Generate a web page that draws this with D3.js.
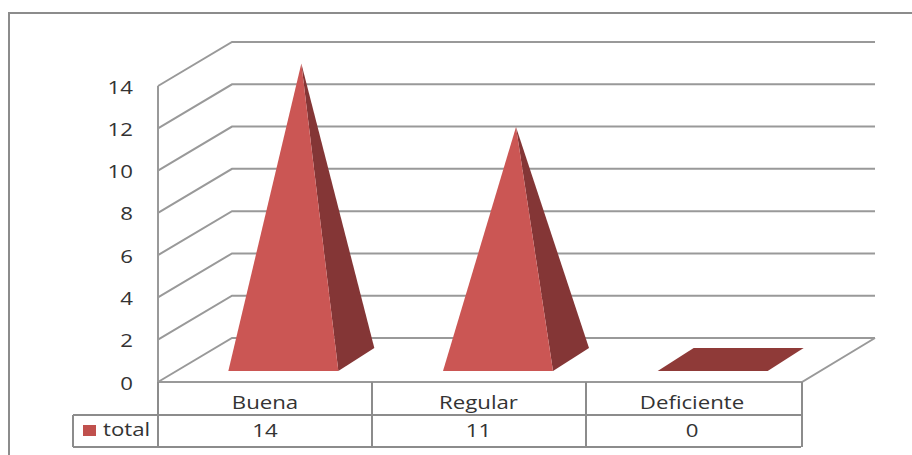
<!DOCTYPE html>
<html>
<head>
<meta charset="utf-8">
<script src="https://cdn.jsdelivr.net/npm/d3@7.9.0/dist/d3.min.js"></script>
<style>
  html, body { margin: 0; padding: 0; background: #fff; }
  svg { display: block; }
  text { font-family: "Open Sans", sans-serif; font-size: 19px; fill: #333; }
</style>
</head>
<body>
<svg id="chart" width="912" height="455"></svg>
<script>
const categories = ['Buena', 'Regular', 'Deficiente'];
const values = [14, 11, 0];
const yTicks = [0, 2, 4, 6, 8, 10, 12, 14];
const seriesName = 'total';

const svg = d3.select('#chart');
const lineColor = '#999';
const tableColor = '#8c8c8c';
const frontColor = '#cb5654';
const sideColor = '#843636';
const floorColor = '#8f3a38';
const textStretch = 1.17; // the source picture is stretched sideways

// depth of the 3d box in pixels
const depthX = 74, depthY = -44;

const x = d3.scaleBand().domain(categories).range([158, 802]);
const y = d3.scaleLinear().domain([0, 14]).range([382, 86]);
// table labels sit slightly left of the column centres
const labelX = d3.scalePoint().domain(categories).range([265, 692]);

const line = pts => 'M' + pts.map(p => p.join(',')).join('L');
const path = pts => line(pts) + 'Z';

// stretched label at px, py
function label(sel, px, py, anchor, str) {
  return sel.append('text')
    .attr('transform', `translate(${px},${py}) scale(${textStretch},1)`)
    .attr('text-anchor', anchor)
    .text(str);
}

// outer frame, only top and left are inside the crop
svg.append('path')
  .attr('d', line([[9, 455], [9, 13], [912, 13]]))
  .attr('fill', 'none').attr('stroke', tableColor).attr('stroke-width', 2);

// walls
const grid = svg.append('g').attr('fill', 'none').attr('stroke', lineColor).attr('stroke-width', 2);
grid.selectAll('path')
  .data(yTicks)
  .join('path')
  .attr('d', d => line([[158, y(d)], [158 + depthX, y(d) + depthY], [875, y(d) + depthY]]));
grid.append('path').attr('d', line([[158, y(0)], [158, y(14)]]));
grid.append('path').attr('d', line([[158, y(0)], [802, y(0)], [802 + depthX - 1, y(0) + depthY]]));

// value axis labels
const yAxis = d3.axisLeft(y).tickValues(yTicks).tickSize(0).tickPadding(0);
const yG = svg.append('g').attr('transform', 'translate(133,1)').call(yAxis);
yG.select('.domain').remove();
yG.selectAll('text')
  .style('font-size', '19px')
  .style('font-family', '"Open Sans", sans-serif')
  .attr('transform', `scale(${textStretch},1)`);

// pyramids, base sits inside the floor
const baseFront = [18, -11], baseBack = [54, -34];
const halfWidth = 55;

categories.forEach((c, i) => {
  const v = values[i];
  const cx = x(c) + x.bandwidth() / 2;
  const fl = [cx - halfWidth + baseFront[0], y(0) + baseFront[1]];
  const fr = [cx + halfWidth + baseFront[0], y(0) + baseFront[1]];
  const bl = [cx - halfWidth + baseBack[0], y(0) + baseBack[1]];
  const br = [cx + halfWidth + baseBack[0], y(0) + baseBack[1]];
  if (v === 0) {
    svg.append('path').attr('d', path([fl, fr, br, bl])).attr('fill', floorColor);
    return;
  }
  const apex = [cx + (baseFront[0] + baseBack[0]) / 2, y(v) + (baseFront[1] + baseBack[1]) / 2];
  svg.append('path').attr('d', path([fr, br, apex])).attr('fill', sideColor);
  svg.append('path').attr('d', path([fl, fr, apex])).attr('fill', frontColor);
});

// data table
const tableTop = 382, rowMid = 415, tableBottom = 447;
const tg = svg.append('g').attr('fill', 'none').attr('stroke', tableColor).attr('stroke-width', 2);
tg.append('path').attr('d', line([[73, rowMid], [802, rowMid]]));
tg.append('path').attr('d', line([[73, tableBottom], [801, tableBottom]]));
tg.append('path').attr('d', line([[73, rowMid], [73, tableBottom]]));
[158, 372, 586, 802].forEach(px => {
  tg.append('path').attr('d', line([[px, tableTop], [px, tableBottom]]));
});

categories.forEach((c, i) => {
  label(svg, labelX(c), 409, 'middle', c);
  label(svg, labelX(c), 437, 'middle', values[i]);
});

// legend key
svg.append('rect').attr('x', 83).attr('y', 425).attr('width', 13).attr('height', 11).attr('fill', '#c0504d');
label(svg, 103, 436, 'start', seriesName);
</script>
</body>
</html>
